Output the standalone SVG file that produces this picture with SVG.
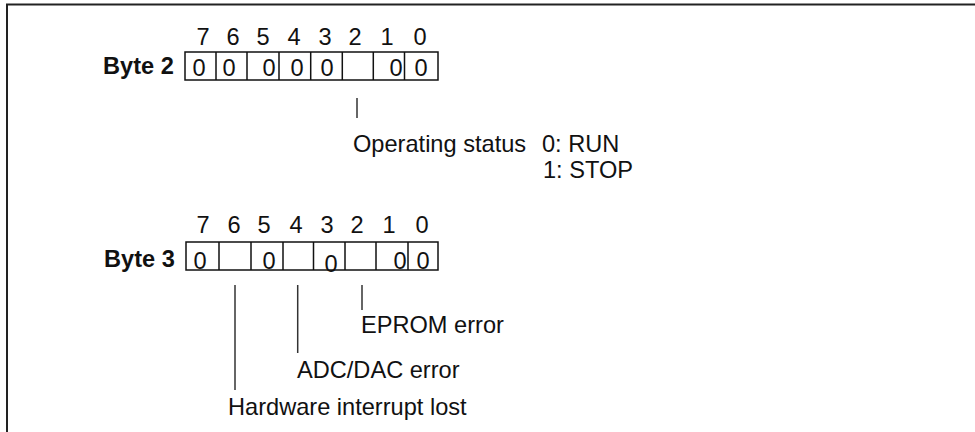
<svg xmlns="http://www.w3.org/2000/svg" width="975" height="432" viewBox="0 0 975 432">
<style>
text{font-family:"Liberation Sans",Arial,sans-serif;font-size:23.6px;fill:#111}
.b{font-weight:bold}
.m{text-anchor:middle}
.cell{fill:#fff;stroke:#111;stroke-width:1.5}
.lead{stroke:#333;stroke-width:1.5;fill:none}
.frame{stroke:#222;stroke-width:2;fill:none}
</style>
<rect width="975" height="432" fill="#fff"/>
<path class="frame" d="M7,432 V4.5 H976"/>
<g id="byte2">
<text class="m" x="203" y="45">7</text><text class="m" x="233" y="45">6</text><text class="m" x="263" y="45">5</text><text class="m" x="294" y="45">4</text><text class="m" x="325" y="45">3</text><text class="m" x="355" y="45">2</text><text class="m" x="387" y="45">1</text><text class="m" x="420" y="45">0</text>
<text class="b" x="103" y="74">Byte 2</text>
<rect class="cell" x="185" y="52" width="253" height="28"/>
<path class="cell" d="M216,52V80M247,52V80M279,52V80M310.7,52V80M342.3,52V80M373.3,52V80M404.5,52V80"/>
<text class="m" x="199" y="75.5">0</text><text class="m" x="229" y="75.5">0</text><text class="m" x="269" y="75.5">0</text><text class="m" x="297" y="75.5">0</text><text class="m" x="327" y="75.5">0</text><text class="m" x="396" y="75.5">0</text><text class="m" x="421" y="75.5">0</text>
</g>
<g id="status">
<text x="353" y="151.5">Operating status</text>
<text x="542" y="151.5">0: RUN</text>
<text x="543" y="178">1: STOP</text>
</g>
<g id="byte3">
<text class="m" x="203" y="233">7</text><text class="m" x="234" y="233">6</text><text class="m" x="264" y="233">5</text><text class="m" x="296" y="233">4</text><text class="m" x="327" y="233">3</text><text class="m" x="357" y="233">2</text><text class="m" x="389" y="233">1</text><text class="m" x="422" y="233">0</text>
<text class="b" x="104" y="267">Byte 3</text>
<rect class="cell" x="186" y="242" width="252" height="28"/>
<path class="cell" d="M219,242V270M251,242V270M283,242V270M313.5,242V270M345,242V270M376,242V270M408,242V270"/>
<text class="m" x="200" y="268.5">0</text><text class="m" x="269" y="268.5">0</text><text class="m" x="331" y="272">0</text><text class="m" x="400" y="268.5">0</text><text class="m" x="423" y="268.5">0</text>
</g>
<g id="eprom"><text x="361" y="333">EPROM error</text></g>
<g id="adc"><text x="297" y="378">ADC/DAC error</text></g>
<g id="hw"><text x="228" y="415">Hardware interrupt lost</text></g>
<g id="connectors">
<path class="lead" d="M357,98V118"/>
<path class="lead" d="M362,285V310"/>
<path class="lead" d="M297.7,285V353"/>
<path class="lead" d="M235,285V390"/>
</g>
</svg>
